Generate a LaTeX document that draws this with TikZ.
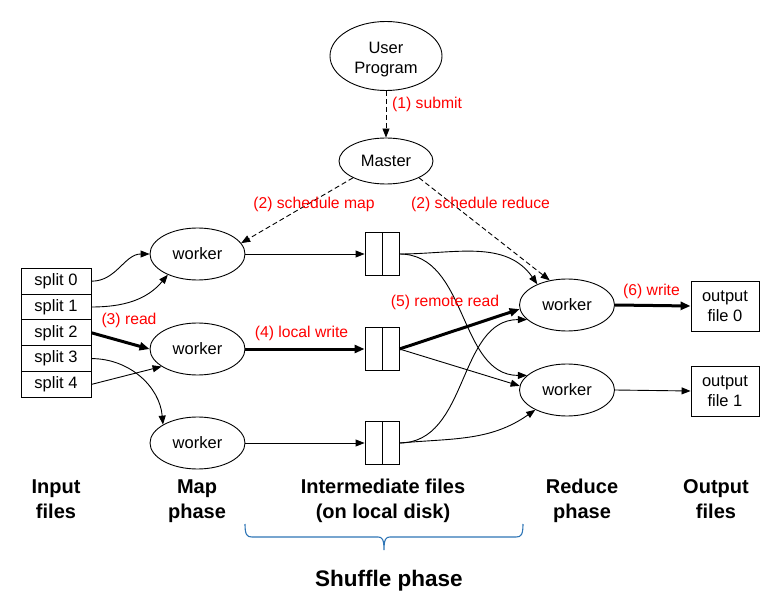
\documentclass[tikz,border=0pt]{standalone}
\usepackage{fontspec}
\setmainfont{Liberation Sans}
\usetikzlibrary{arrows.meta,shapes.geometric}
\definecolor{stepred}{RGB}{255,0,0}
\definecolor{bracecol}{RGB}{46,117,182}
\begin{document}
\begin{tikzpicture}[x=1pt,y=-1pt,
  every node/.style={font=\fontsize{16.5}{20}\selectfont, align=center},
  proc/.style={draw, ellipse, line width=0.9pt, minimum width=95pt, minimum height=52pt, inner sep=0pt},
  splitbox/.style={draw, rectangle, line width=0.9pt, minimum width=70pt, minimum height=25.8pt, inner sep=0pt},
  filebox/.style={draw, rectangle, line width=0.9pt, minimum width=34pt, minimum height=43pt, inner sep=0pt},
  outbox/.style={draw, rectangle, line width=0.9pt, minimum width=68pt, minimum height=50pt, inner sep=0pt},
  steplabel/.style={text=stepred, font=\fontsize{15.7}{19}\selectfont, inner sep=0pt},
  phaselabel/.style={font=\fontsize{20}{25}\selectfont\bfseries, inner sep=0pt},
  flow/.style={line width=0.9pt, -{Triangle[length=9pt,width=7pt]}},
  heavy/.style={line width=3pt, -{Triangle[length=10pt,width=8pt]}},
  ctrl/.style={line width=0.9pt, dash pattern=on 5pt off 3pt, -{Triangle[length=9pt,width=7pt]}}
]
\useasboundingbox (0,0) rectangle (769,596);

% client and master
\node[proc, minimum width=112pt, minimum height=69pt] (user) at (386,56) {\rule{0pt}{18pt}User\\Program};
\node[proc, minimum width=94pt, minimum height=46pt] (master) at (386,161) {Master};

% input splits
\node[splitbox] (s0) at (56,281.2) {split 0};
\node[splitbox] (s1) at (56,307.0) {split 1};
\node[splitbox] (s2) at (56,332.8) {split 2};
\node[splitbox] (s3) at (56,358.6) {split 3};
\node[splitbox] (s4) at (56,384.4) {split 4};

% map workers
\node[proc] (m1) at (197.5,254) {worker};
\node[proc] (m2) at (197.5,349) {worker};
\node[proc] (m3) at (197.5,443) {worker};

% intermediate files
\node[filebox] (f1) at (382,254) {};
\node[filebox] (f2) at (382,349) {};
\node[filebox] (f3) at (382,443) {};
\foreach \f in {f1,f2,f3} \draw[line width=0.9pt] (\f.north) -- (\f.south);

% reduce workers
\node[proc] (r1) at (567,305) {worker};
\node[proc] (r2) at (567,390) {worker};

% output files
\node[outbox] (o0) at (725,306) {output\\file 0};
\node[outbox] (o1) at (725,391) {output\\file 1};

% control messages
\draw[ctrl] (user.south) -- (master.north);
\draw[ctrl] (master.207) -- (m1.14);
\draw[ctrl] (master.-27) -- (r1.125);

% reading splits
\draw[flow] (s0.east) to[out=0, in=180] (m1.west);
\draw[flow] (s1.east) to[out=0, in=-130] (m1.215);
\draw[heavy] (s2.east) -- (m2.west);
\draw[flow] (s3.east) to[out=0, in=95] (m3.152);
\draw[flow] (s4.east) -- (m2.206);

% local writes
\draw[flow] (m1.east) -- (f1.west);
\draw[heavy] (m2.east) -- (f2.west);
\draw[flow] (m3.east) -- (f3.west);

% remote reads
\draw[flow] (f1.east) to[out=0, in=125] (r1.145);
\draw[flow] (f1.east) to[out=0, in=180] (r2.160);
\draw[heavy] (f2.east) -- (r1.185);
\draw[flow] (f2.east) -- (r2.175);
\draw[flow] (f3.east) to[out=0, in=180] (r1.200);
\draw[flow] (f3.east) to[out=5, in=-145] (r2.212);

% final writes
\draw[heavy] (r1.east) -- (o0.west);
\draw[flow] (r2.east) -- (o1.west);

% step labels
\node[steplabel, anchor=west] (l1) at (392,104) {(1) submit};
\node[steplabel] (l2a) at (314,204) {(2) schedule map};
\node[steplabel] (l2b) at (480.5,204) {(2) schedule reduce};
\node[steplabel] (l3) at (129,320) {(3) read};
\node[steplabel] (l4) at (301.5,333) {(4) local write};
\node[steplabel] (l5) at (445,302) {(5) remote read};
\node[steplabel] (l6) at (651.5,291) {(6) write};

% phase captions
\node[phaselabel] (pin) at (56,498.8) {Input\\files};
\node[phaselabel] (pmap) at (197,500.8) {Map\\phase};
\node[phaselabel] (pmid) at (383,500.8) {Intermediate files\\(on local disk)};
\node[phaselabel] (pred) at (582,500.8) {Reduce\\phase};
\node[phaselabel] (pout) at (716,498.8) {Output\\files};

% shuffle brace
\draw[bracecol, line width=1.1pt]
  (245,524) .. controls (245,535) and (247,537) .. (252,537) -- (378,537)
  .. controls (382,537) and (384,539) .. (384,550)
  .. controls (384,539) and (386,537) .. (390,537) -- (516,537)
  .. controls (521,537) and (523,535) .. (523,524);
\node[phaselabel, font=\fontsize{22.5}{27}\selectfont\bfseries] (pshuf) at (389,580.5) {Shuffle phase};

\end{tikzpicture}
\end{document}
